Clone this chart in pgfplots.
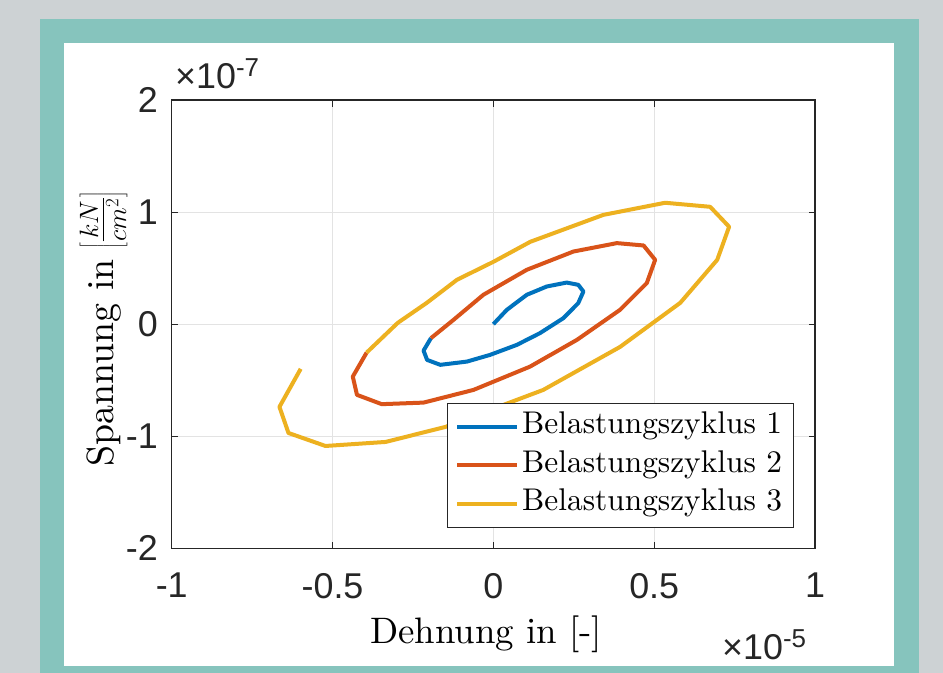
\documentclass[border=0pt]{standalone}
\usepackage{fix-cm}
\usepackage{fontspec}
\usepackage{pgfplots}
\pgfplotsset{compat=1.18}
\newfontfamily\ticksf{Liberation Sans}
\newfontfamily\lmten{lmroman10-regular.otf}
\definecolor{pagebg}{HTML}{CDD2D4}
\definecolor{frameteal}{HTML}{86C4BD}
\definecolor{axgray}{HTML}{262626}
\definecolor{gridgray}{HTML}{E3E3E3}
\definecolor{zyk1}{HTML}{0072BD}
\definecolor{zyk2}{HTML}{D95319}
\definecolor{zyk3}{HTML}{EDB120}

\begin{document}
\begin{tikzpicture}
% page background, teal frame and white panel
\fill[pagebg] (0bp,0bp) rectangle (943bp,673bp);
\fill[frameteal] (40bp,0bp) rectangle (919bp,654.3bp);
\fill[white] (64bp,7bp) rectangle (894bp,630bp);

\begin{axis}[
  at={(171.7bp,124.7bp)}, anchor=south west,
  scale only axis, width=643.3bp, height=448.3bp,
  xmin=-1, xmax=1, ymin=-2, ymax=2,
  xtick={-1,-0.5,0,0.5,1}, xticklabels={-1,-0.5,0,0.5,1},
  ytick={-2,-1,0,1,2}, yticklabels={-2,-1,0,1,2},
  grid=major, major grid style={gridgray, line width=1bp},
  tick align=inside, major tick length=6.5bp,
  xtick pos=both, ytick pos=both, ticklabel pos=left,
  tick style={axgray, line width=1bp},
  axis line style={axgray, line width=1.2bp},
  ticklabel style={font=\ticksf\fontsize{36}{40}\selectfont, text=axgray},
  xticklabel style={anchor=north, inner sep=0pt, yshift=-24.7bp},
  yticklabel style={anchor=east, inner sep=0pt, xshift=-13.7bp},
  legend style={at={(0.4275,0.3241)}, anchor=north west,
    draw=axgray, line width=1bp, fill=white,
    font=\lmten\fontsize{31.5}{36}\selectfont,
    inner xsep=8bp, inner ysep=4bp, row sep=0bp,
    nodes={inner sep=3bp, text height=23bp, text depth=9.5bp},
    cells={anchor=west}},
  legend image code/.code={\draw[#1, line width=4bp] (0bp,0bp) -- (60bp,0bp);},
]
\addplot[zyk1, line width=4bp, line join=round] coordinates {
  (0,0) (0.042,0.128) (0.104,0.262) (0.166,0.336) (0.228,0.371)
  (0.264,0.351) (0.280,0.291) (0.264,0.188) (0.218,0.054) (0.145,-0.080)
  (0.073,-0.185) (-0.010,-0.274) (-0.082,-0.334) (-0.165,-0.363)
  (-0.206,-0.319) (-0.217,-0.236) (-0.194,-0.125)
};
\addplot[zyk2, line width=4bp, line join=round] coordinates {
  (-0.194,-0.125) (-0.124,0.038) (-0.031,0.262) (0.104,0.485) (0.249,0.648)
  (0.384,0.723) (0.467,0.702) (0.503,0.574) (0.477,0.366) (0.394,0.128)
  (0.260,-0.140) (0.114,-0.379) (-0.062,-0.587) (-0.217,-0.700)
  (-0.347,-0.714) (-0.424,-0.631) (-0.437,-0.468) (-0.394,-0.254)
};
\addplot[zyk3, line width=4bp, line join=round] coordinates {
  (-0.394,-0.254) (-0.297,0.012) (-0.207,0.190) (-0.113,0.396) (0,0.556)
  (0.115,0.735) (0.342,0.975) (0.534,1.083) (0.674,1.047) (0.733,0.869)
  (0.696,0.574) (0.581,0.190) (0.394,-0.203) (0.155,-0.587) (0.031,-0.721)
  (-0.149,-0.917) (-0.335,-1.051) (-0.522,-1.087) (-0.637,-0.971)
  (-0.665,-0.738) (-0.599,-0.399)
};
\legend{Belastungszyklus 1, Belastungszyklus 2, Belastungszyklus 3}
\end{axis}

% axis labels and exponent labels
\node[anchor=base, inner sep=0pt, font=\lmten\fontsize{37}{40}\selectfont]
  at (486bp,30bp) {Dehnung in [-]};
\node[anchor=base, rotate=90, inner sep=0pt, font=\lmten\fontsize{38}{40}\selectfont]
  at (113bp,344.5bp) {Spannung in\hspace{10bp}$\left[\frac{kN}{cm^2}\right]$};
\node[anchor=base west, inner sep=0pt, text=axgray, font=\ticksf\fontsize{36}{40}\selectfont]
  at (175bp,584bp) {×10\raisebox{12bp}{\fontsize{26}{28}\selectfont -7}};
\node[anchor=base west, inner sep=0pt, text=axgray, font=\ticksf\fontsize{36}{40}\selectfont]
  at (722bp,14bp) {×10\raisebox{12bp}{\fontsize{26}{28}\selectfont -5}};

\pgfresetboundingbox
\useasboundingbox (0bp,0bp) rectangle (943bp,673bp);
\end{tikzpicture}
\end{document}
